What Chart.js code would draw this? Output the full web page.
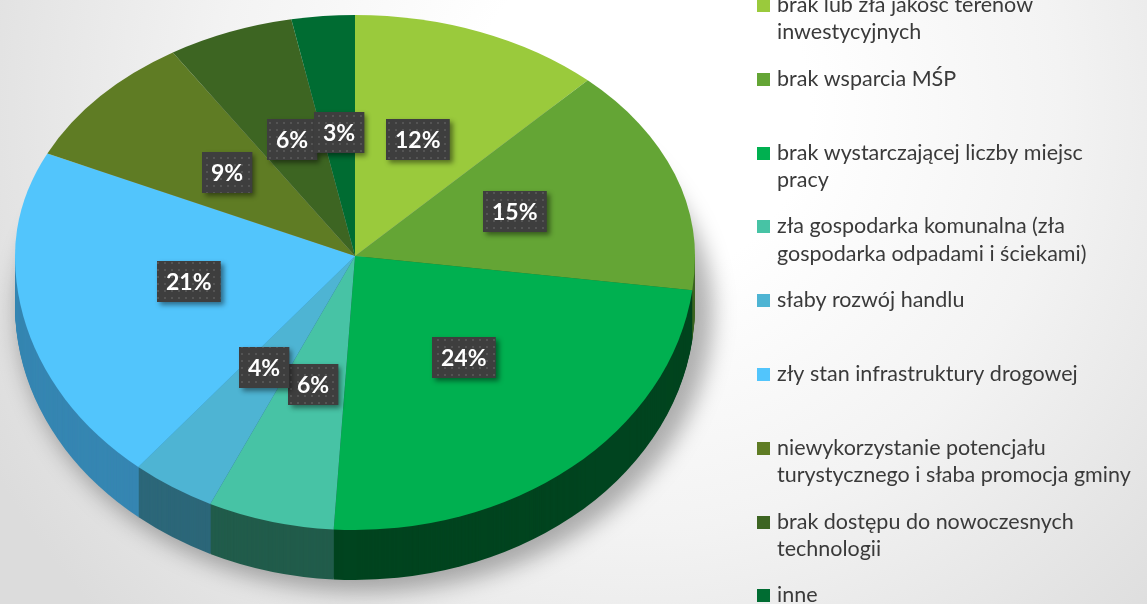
<!DOCTYPE html>
<html>
<head>
<meta charset="utf-8">
<script src="https://cdn.jsdelivr.net/npm/chart.js@4.4.1/dist/chart.umd.min.js"></script>
<style>
html, body { margin: 0; padding: 0; }
body {
    width: 1147px; height: 604px; overflow: hidden;
    background: radial-gradient(circle at 640px 110px, #ffffff 0px, #ffffff 170px, #f3f3f3 420px, #dcdcdc 740px);
}
#wrap { position: relative; width: 1147px; height: 604px; }
</style>
</head>
<body>
<div id="wrap"><canvas id="myChart"></canvas></div>
<script>
// Kategorie (wieloliniowe etykiety legendy)
var labels = [
    ['brak lub zła jakość terenów', 'inwestycyjnych'],
    ['brak wsparcia MŚP'],
    ['brak wystarczającej liczby miejsc', 'pracy'],
    ['zła gospodarka komunalna (zła', 'gospodarka odpadami i ściekami)'],
    ['słaby rozwój handlu'],
    ['zły stan infrastruktury drogowej'],
    ['niewykorzystanie potencjału', 'turystycznego i słaba promocja gminy'],
    ['brak dostępu do nowoczesnych', 'technologii'],
    ['inne']
];
// Wartości procentowe
var values = [12, 15, 24, 6, 4, 21, 9, 6, 3];

// Kolory wierzchu i boku tortu
var topColors  = ['#9aca3c', '#64a535', '#00b050', '#47c3a5', '#4eb4d3', '#52c5fc', '#5f7c24', '#3d6522', '#006c32'];
var sideColors = ['#5e7d25', '#3d6620', '#00441f', '#215c4b', '#2c6779', '#3686b2', '#3a4c16', '#253e14', '#00401e'];

// Geometria "3D" (elipsa z perspektywą)
var CX = 355, CY = 256, RX = 340, RY_TOP = 241, RY_BOTTOM = 274, DEPTH = 50;
var W = 1147, H = 604;

function faceTransform(ctx, arc, half) {
    var r = arc.outerRadius;
    ctx.translate(CX, CY);
    ctx.scale(RX / r, (half === 'top' ? RY_TOP : RY_BOTTOM) / r);
    ctx.translate(-arc.x, -arc.y);
}

function arcPath(ctx, arc) {
    ctx.beginPath();
    ctx.moveTo(arc.x, arc.y);
    ctx.arc(arc.x, arc.y, arc.outerRadius, arc.startAngle, arc.endAngle);
    ctx.closePath();
}

// punkt z układu Chart.js -> ekran po transformacji
function project(arc, p) {
    var r = arc.outerRadius;
    var dx = (p.x - arc.x) * RX / r;
    var dy = (p.y - arc.y);
    dy = dy < 0 ? dy * RY_TOP / r : dy * RY_BOTTOM / r;
    return { x: CX + dx, y: CY + dy };
}

// wzór kropek na etykietach
var pat = document.createElement('canvas');
pat.width = 7; pat.height = 7;
var pctx = pat.getContext('2d');
pctx.fillStyle = '#3e3e3e';
pctx.fillRect(0, 0, 7, 7);
pctx.fillStyle = '#545454';
pctx.fillRect(3, 3, 2, 2);

var pie3d = {
    id: 'pie3d',
    beforeDatasetsDraw: function (chart) {
        var ctx = chart.ctx;
        var arcs = chart.getDatasetMeta(0).data;

        // cień pod tortem
        ctx.save();
        ctx.filter = 'blur(11px)';
        ctx.fillStyle = 'rgba(0,0,0,0.30)';
        ctx.beginPath();
        ctx.ellipse(CX + 10, CY + DEPTH + 4, RX + 8, RY_TOP + 6, 0, Math.PI, 2 * Math.PI);
        ctx.ellipse(CX + 10, CY + DEPTH + 4, RX + 8, RY_BOTTOM + 8, 0, 0, Math.PI);
        ctx.fill();
        ctx.restore();

        // bok tortu
        for (var d = DEPTH; d >= 1; d--) {
            ctx.save();
            ctx.translate(0, d);
            ctx.beginPath();
            ctx.rect(0, CY, W, H);
            ctx.clip();
            arcs.forEach(function (arc, i) {
                ctx.save();
                faceTransform(ctx, arc, 'bottom');
                arcPath(ctx, arc);
                ctx.fillStyle = sideColors[i];
                ctx.fill();
                ctx.restore();
            });
            ctx.restore();
        }

        // wierzch tortu
        ['top', 'bottom'].forEach(function (half) {
            ctx.save();
            ctx.beginPath();
            if (half === 'top') ctx.rect(0, 0, W, CY + 0.5);
            else ctx.rect(0, CY - 0.5, W, H);
            ctx.clip();
            arcs.forEach(function (arc, i) {
                ctx.save();
                faceTransform(ctx, arc, half);
                arcPath(ctx, arc);
                ctx.fillStyle = topColors[i];
                ctx.fill();
                ctx.restore();
            });
            ctx.restore();
        });
        return false;
    },
    afterDraw: function (chart) {
        var ctx = chart.ctx;
        var arcs = chart.getDatasetMeta(0).data;
        var total = values.reduce(function (a, b) { return a + b; }, 0);

        // etykiety procentowe
        ctx.save();
        ctx.font = 'bold 23px Lato, "Open Sans", sans-serif';
        ctx.textAlign = 'center';
        ctx.textBaseline = 'middle';
        arcs.forEach(function (arc, i) {
            var p = project(arc, arc.tooltipPosition());
            var txt = Math.round(values[i] / total * 100) + '%';
            var w = ctx.measureText(txt).width + 18, h = 41;
            var x = Math.round(p.x - w / 2), y = Math.round(p.y - 4 - h / 2);
            ctx.save();
            ctx.shadowColor = 'rgba(0,0,0,0.45)';
            ctx.shadowBlur = 5;
            ctx.shadowOffsetX = 3;
            ctx.shadowOffsetY = 3;
            ctx.fillStyle = '#3e3e3e';
            ctx.fillRect(x, y, w, h);
            ctx.restore();
            ctx.fillStyle = ctx.createPattern(pat, 'repeat');
            ctx.fillRect(x, y, w, h);
            ctx.fillStyle = '#ffffff';
            ctx.fillText(txt, x + w / 2, y + h / 2 + 1);
        });
        ctx.restore();

        // legenda
        ctx.save();
        ctx.font = '21.5px Lato, "Open Sans", sans-serif';
        ctx.textAlign = 'left';
        ctx.textBaseline = 'middle';
        chart.data.labels.forEach(function (lines, i) {
            var y = 5 + i * 73.8;
            ctx.fillStyle = topColors[i];
            ctx.fillRect(757, Math.round(y - 6), 13, 13);
            ctx.fillStyle = '#3a3a3a';
            lines.forEach(function (line, j) {
                ctx.fillText(line, 777, y + j * 27.5);
            });
        });
        ctx.restore();
    }
};

var ctx = document.getElementById('myChart').getContext('2d');

var myChart = new Chart(ctx, {
    type: 'pie',
    data: {
        labels: labels,
        datasets: [{
            data: values,
            backgroundColor: topColors,
            borderWidth: 0
        }]
    },
    options: {
        responsive: true,
        maintainAspectRatio: false,
        animation: false,
        events: [],
        layout: { padding: { left: 0, right: 437, top: 0, bottom: 0 } },
        plugins: {
            legend: { display: false },
            tooltip: { enabled: false }
        }
    },
    plugins: [pie3d]
});
</script>
</body>
</html>
